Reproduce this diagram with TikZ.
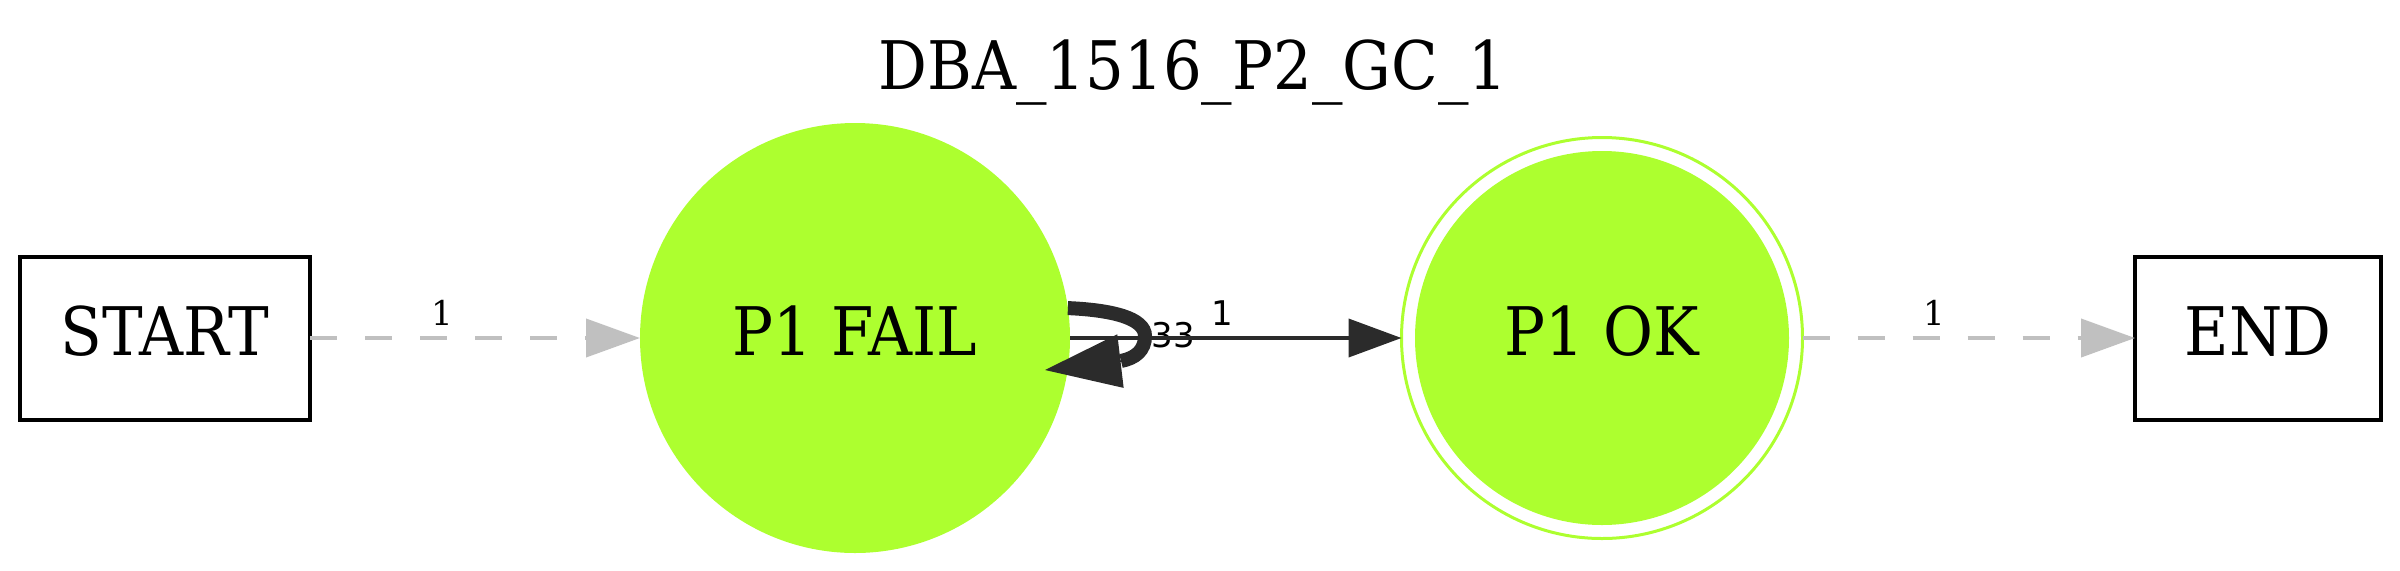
\documentclass[tikz,border=0pt]{standalone}
\usepackage{fontspec}
\setmainfont{DejaVu Serif}[FakeStretch=0.91]
\newfontfamily\lblsans{DejaVu Sans}
\newfontfamily\lblserif{DejaVu Serif}
\usetikzlibrary{arrows.meta}
\definecolor{gy}{HTML}{ADFF2F}
\definecolor{edgegray}{HTML}{C0C0C0}
\definecolor{edgedark}{HTML}{2B2B2B}
\begin{document}
\begin{tikzpicture}[x=0.25pt,y=-0.25pt,
  every node/.style={inner sep=0pt, outer sep=0pt},
  nodetext/.style={font=\fontsize{16.75pt}{20pt}\selectfont, text height=11.75pt, text depth=3.25pt},
  termbox/.style={nodetext, draw=black, line width=1pt, rectangle, minimum height=40.75pt},
  failstate/.style={nodetext, circle, fill=gy, minimum size=107.5pt},
  okring/.style={circle, draw=gy, line width=0.75pt, minimum size=100.25pt},
  okcore/.style={nodetext, circle, fill=gy, minimum size=93.5pt},
  grayedge/.style={draw=edgegray, line width=1pt, dash pattern=on 6.75pt off 7pt, -{Triangle[length=13.5pt,width=9.5pt]}},
  darkedge/.style={draw=edgedark, line width=1pt, -{Triangle[length=13.25pt,width=9.5pt]}},
  loopedge/.style={draw=edgedark, line width=3.5pt},
  looptipstyle/.style={draw=edgedark, fill=edgedark, line width=0.4pt, -{Triangle[length=19pt,width=13.4pt]}},
  serlabel/.style={anchor=base, font=\lblserif\fontsize{8.5pt}{10pt}\selectfont},
  sanlabel/.style={anchor=base, font=\lblsans\fontsize{8.5pt}{10pt}\selectfont},
  titlestyle/.style={anchor=base, font=\fontsize{16.75pt}{20pt}\selectfont}
]
\useasboundingbox (0,0) rectangle (2400,570);

\node[titlestyle] (title) at (1193,89) {DBA\_1516\_P2\_GC\_1};

\node[termbox, minimum width=72.5pt] (start) at (165,338) {START};
\node[failstate] (fail) at (855,338) {P1 FAIL};
\node[okring] (ok) at (1602,338) {};
\node[okcore] (okin) at (1602,338) {P1 OK};
\node[termbox, minimum width=61.5pt] (end) at (2258,338) {END};

% START -> P1 FAIL
\draw[grayedge] (start.east) -- (fail.west);
\node[serlabel] (l1) at (442,325) {1};

% self loop on P1 FAIL
\coordinate (loopbase) at (1121,361);
\coordinate (looptip) at (1045,370);
\draw[loopedge] (fail.8) .. controls (1112,310) and (1145,318) .. (1145,336) .. controls (1145,350) and (1136,358) .. (loopbase);
\draw[looptipstyle] (loopbase) -- (looptip);
\node[sanlabel] (l33) at (1173,347) {33};

% P1 FAIL -> P1 OK
\draw[darkedge] (fail.east) -- (ok.west);
\node[sanlabel] (l2) at (1222,325) {1};

% P1 OK -> END
\draw[grayedge] (ok.east) -- (end.west);
\node[serlabel] (l3) at (1934,325) {1};
\end{tikzpicture}
\end{document}
